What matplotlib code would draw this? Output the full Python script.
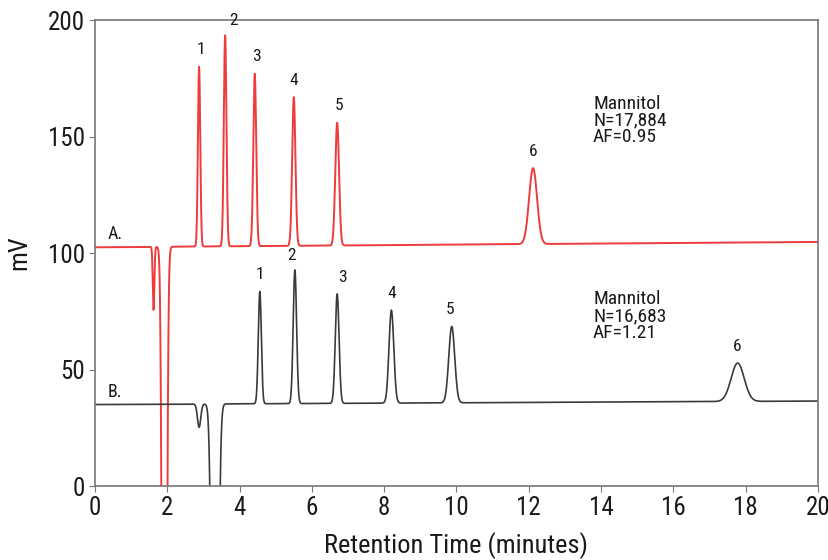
import numpy as np
import matplotlib
matplotlib.use("Agg")
import matplotlib.pyplot as plt

plt.rcParams["font.family"] = ["Roboto Condensed", "DejaVu Sans"]

# Trace A (red): baseline, peaks (apex mV), widths, negative system peaks
base_a = [102.5, 104.8]
peaks_a_t = [2.88, 3.60, 4.42, 5.50, 6.70, 12.12]
peaks_a_top = [180, 193.5, 177, 167, 156, 136.5]
peaks_a_sig = [0.032, 0.036, 0.040, 0.045, 0.052, 0.110]
dips_a_t = [1.62, 1.92]
dips_a_depth = [27, 450]
dips_a_sig = [0.022, 0.050]

# Trace B (black)
base_b = [35.0, 36.5]
peaks_b_t = [4.56, 5.53, 6.70, 8.20, 9.87, 17.78]
peaks_b_top = [83.5, 92.8, 82.5, 75.5, 68.5, 52.8]
peaks_b_sig = [0.042, 0.047, 0.052, 0.066, 0.082, 0.180]
dips_b_t = [2.88, 3.32]
dips_b_depth = [10, 300]
dips_b_sig = [0.045, 0.070]

peak_labels = ["1", "2", "3", "4", "5", "6"]


def trace(t, base, pt, ptop, psig, dt, dd, dsig):
    b = base[0] + (base[1] - base[0]) * t / 20.0
    y = b.copy()
    for c, top, s in zip(pt, ptop, psig):
        h = top - (base[0] + (base[1] - base[0]) * c / 20.0)
        y += h * np.exp(-0.5 * ((t - c) / s) ** 2)
    for c, d, s in zip(dt, dd, dsig):
        y -= d * np.exp(-0.5 * ((t - c) / s) ** 2)
    return y


t = np.linspace(0, 20, 8001)
ya = trace(t, base_a, peaks_a_t, peaks_a_top, peaks_a_sig, dips_a_t, dips_a_depth, dips_a_sig)
yb = trace(t, base_b, peaks_b_t, peaks_b_top, peaks_b_sig, dips_b_t, dips_b_depth, dips_b_sig)

txt = "#1a1a1a"

fig = plt.figure(figsize=(8.29, 5.6), dpi=100)
ax = fig.add_axes([0.1146, 0.132, 0.872, 0.832])

ax.plot(t, ya, color="#ee3b3b", lw=1.4)
ax.plot(t, yb, color="#3a3a3a", lw=1.2)

ax.set_xlim(0, 20)
ax.set_ylim(0, 200)
ax.set_xticks(np.arange(0, 21, 2))
ax.set_yticks([0, 50, 100, 150, 200])
ax.tick_params(labelsize=18, length=4, pad=3, color="#777777", labelcolor=txt)
for s in ax.spines.values():
    s.set_color("#777777")
    s.set_linewidth(1.2)

ax.set_xlabel("Retention Time (minutes)", fontsize=19, color=txt, labelpad=9)
ax.set_ylabel("mV", fontsize=19, color=txt, labelpad=12)

# peak numbers
offs_a = [(0.05, 4), (0.22, 3), (0.05, 4), (0.0, 4), (0.05, 4), (0.0, 4)]
for lab, c, top, (dx, dy) in zip(peak_labels, peaks_a_t, peaks_a_top, offs_a):
    ax.text(c + dx, top + dy, lab, fontsize=12.5, ha="center", va="bottom", color=txt)
offs_b = [(0.0, 4), (-0.1, 3), (0.15, 4), (0.0, 4), (-0.05, 4), (0.0, 4)]
for lab, c, top, (dx, dy) in zip(peak_labels, peaks_b_t, peaks_b_top, offs_b):
    ax.text(c + dx, top + dy, lab, fontsize=12.5, ha="center", va="bottom", color=txt)

ax.text(0.35, 104.5, "A.", fontsize=13, color=txt, va="bottom")
ax.text(0.35, 36.5, "B.", fontsize=13, color=txt, va="bottom")

ax.text(13.78, 168, "Mannitol\nN=17,884\nAF=0.95", fontsize=14, color=txt,
        va="top", linespacing=0.9)
ax.text(13.78, 84, "Mannitol\nN=16,683\nAF=1.21", fontsize=14, color=txt,
        va="top", linespacing=0.9)

fig.savefig("out.png", dpi=100)
